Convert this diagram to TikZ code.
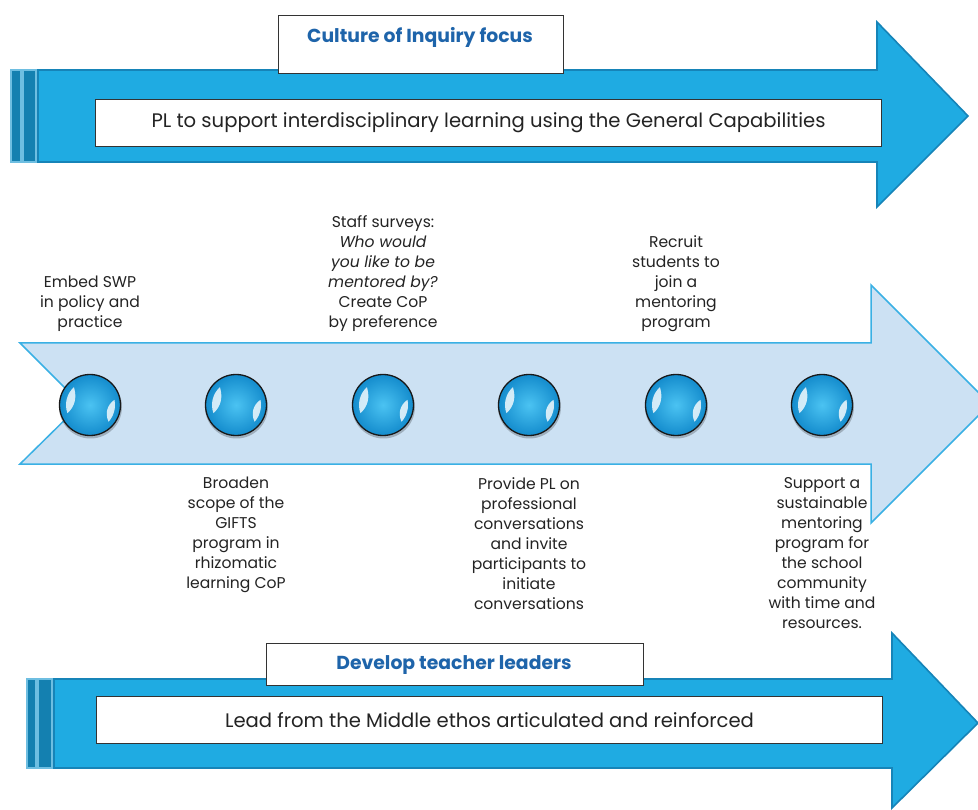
\documentclass[tikz,border=0pt]{standalone}
\usepackage{fontspec}
\setmainfont{Poppins}
\definecolor{arrowBlue}{RGB}{31,171,226}
\definecolor{arrowEdge}{RGB}{22,132,184}
\definecolor{stripeDark}{RGB}{20,128,176}
\definecolor{stripeLight}{RGB}{110,190,225}
\definecolor{midFill}{RGB}{204,225,243}
\definecolor{midEdge}{RGB}{58,176,228}
\definecolor{titleBlue}{RGB}{30,100,170}
\definecolor{ink}{RGB}{35,35,35}
\definecolor{ballIn}{RGB}{75,195,242}
\definecolor{ballOut}{RGB}{20,140,205}
\begin{document}
\begin{tikzpicture}[x=1pt,y=-1pt,
  bigarrow/.style={fill=arrowBlue,draw=arrowEdge,line width=1.6pt,line join=miter},
  stripe/.style={fill=stripeDark,draw=stripeLight,line width=1.2pt},
  midarrow/.style={fill=midFill,draw=midEdge,line width=1.5pt,line join=miter},
  whitebox/.style={fill=white,draw=black!80,line width=1pt},
  boxtext/.style={text=ink,font=\fontsize{19.6}{22}\selectfont,inner sep=0pt},
  titletext/.style={text=titleBlue,font=\bfseries\fontsize{18.8}{22}\selectfont,inner sep=0pt},
  label/.style={text=ink,align=center,inner sep=0pt,font=\fontsize{15.6}{20}\selectfont},
  gloss/.style={fill=white,opacity=.8},
  ball/.style={circle,minimum size=61pt,inner sep=0pt,draw=black!90,line width=1.3pt,
    inner color=ballIn,outer color=ballOut,
    path picture={
      \begin{scope}[shift={(path picture bounding box.center)}]
        % glossy crescents on the upper left and lower right
        \fill[gloss] (-132:24) arc[start angle=-132,end angle=-200,radius=24]
          .. controls (-185:15) and (-150:15) .. cycle;
        \fill[gloss] (-12:25) arc[start angle=-12,end angle=42,radius=25]
          .. controls (30:17) and (0:17) .. cycle;
      \end{scope}}},
  ballshadow/.style={fill=black,opacity=.22}
]
\useasboundingbox (0,0) rectangle (978,810);
\begin{scope}
\clip (0,0) rectangle (978,810);

% upper banner arrow
\draw[stripe] (11,70) rectangle (21,162);
\draw[stripe] (23,70) rectangle (36,162);
\draw[bigarrow] (38,70) -- (877,70) -- (877,22) -- (968,116) -- (877,207)
  -- (877,162) -- (38,162) -- cycle;
\node[whitebox,minimum width=285pt,minimum height=58pt,anchor=north west]
  (cbox) at (278,15) {};
\node[titletext] (ctitle) at (420,37) {Culture of Inquiry focus};
\node[whitebox,minimum width=786pt,minimum height=47pt,anchor=north west]
  (pbox) at (95,99) {};
\node[boxtext] (ptext) at (pbox.center) {PL to support interdisciplinary learning using the General Capabilities};

% lower banner arrow
\draw[stripe] (27,679) rectangle (36,768);
\draw[stripe] (38,679) rectangle (52,768);
\draw[bigarrow] (54,679) -- (892,679) -- (892,633) -- (978,723) -- (892,808)
  -- (892,768) -- (54,768) -- cycle;
\node[whitebox,minimum width=377pt,minimum height=42pt,anchor=north west]
  (dbox) at (266,643) {};
\node[titletext] (dtitle) at (454,665) {Develop teacher leaders};
\node[whitebox,minimum width=786pt,minimum height=47pt,anchor=north west]
  (lbox) at (96,696) {};
\node[boxtext] (ltext) at (lbox.center) {Lead from the Middle ethos articulated and reinforced};

% central timeline arrow
\draw[midarrow] (20,343) -- (871,343) -- (871,285) -- (990,404) -- (871,523)
  -- (871,464) -- (20,464) -- (81,404) -- cycle;
\end{scope}

% milestones
\foreach \n/\x in {1/90,2/236,3/383,4/529,5/676,6/822}{
  \fill[ballshadow] (\x+0.5,407) circle (31.5);
  \node[ball] (m\n) at (\x,405) {};
}

% labels above the timeline
\node[label,anchor=south] (t1) at (90,332) {Embed SWP\\in policy and\\practice};
\node[label,anchor=south] (t3) at (383,332) {Staff surveys:\\\itshape Who would\\\itshape you like to be\\\itshape mentored by?\\Create CoP\\by preference};
\node[label,anchor=south] (t5) at (676,332) {Recruit\\students to\\join a\\mentoring\\program};

% labels below the timeline
\node[label,anchor=north] (b2) at (236,477) {Broaden\\scope of the\\GIFTS\\program in\\rhizomatic\\learning CoP};
\node[label,anchor=north] (b4) at (529,477) {Provide PL on\\professional\\conversations\\and invite\\participants to\\initiate\\conversations};
\node[label,anchor=north] (b6) at (822,477) {Support a\\sustainable\\mentoring\\program for\\the school\\community\\with time and\\resources.};
\end{tikzpicture}
\end{document}
